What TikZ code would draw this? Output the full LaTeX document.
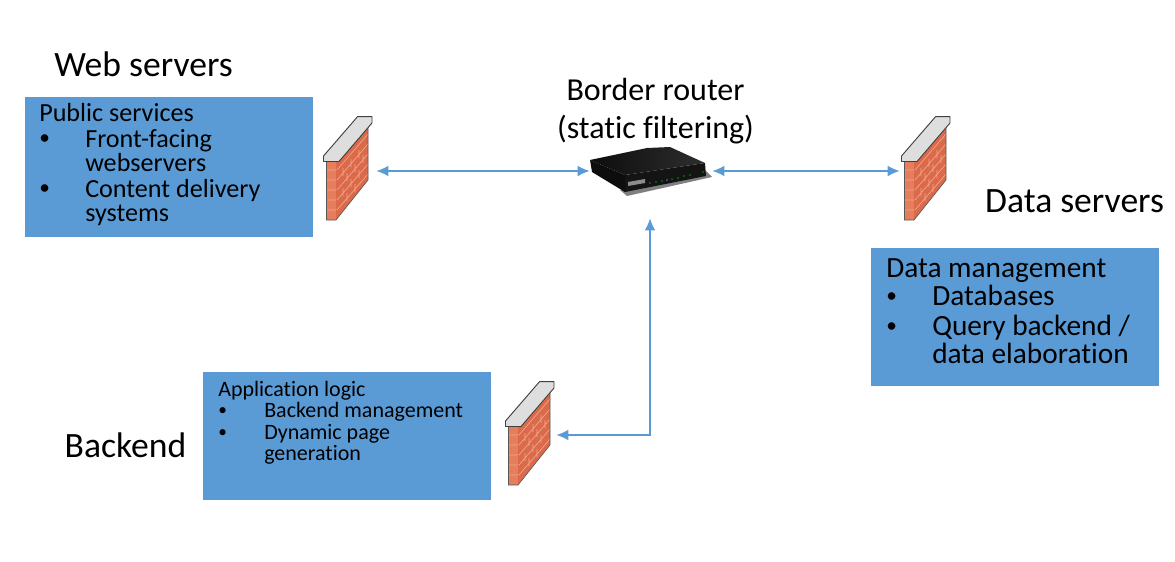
\documentclass[tikz,border=0pt]{standalone}
\usepackage{fontspec}
\usetikzlibrary{arrows.meta}
\setmainfont[Ligatures=NoCommon]{Carlito}
\definecolor{boxblue}{HTML}{5B9BD5}
\definecolor{brick}{HTML}{DB6A4A}
\definecolor{brickfront}{HTML}{E67D5C}
\definecolor{capgrey}{HTML}{DEDEDE}
\definecolor{mortar}{HTML}{EFA68D}
\definecolor{arrowblue}{HTML}{5B9BD5}
\newcommand{\bul}[2][16]{\makebox[#2][l]{\raisebox{0.1em}{\fontsize{#1}{#1}\selectfont •}}}
\tikzset{
  x=0.75pt,y=-0.75pt,
  bluebox/.style={fill=boxblue,draw=none,inner sep=0pt,anchor=north west},
  boxtext/.style={anchor=north west,inner sep=0pt,align=left,text=black},
  bignote/.style={inner sep=0pt,font=\fontsize{26.7}{30}\selectfont,align=center},
  anchorbox/.style={draw=none,fill=none,inner sep=0pt,minimum width=#1*0.75pt,minimum height=80*0.75pt},
  link/.style={draw=arrowblue,line width=1.2pt,{Latex[length=9pt,width=8pt]}-{Latex[length=9pt,width=8pt]}},
  pics/wall/.style={code={
    \fill[brick] (16.5,51)--(29,51)--(58,16)--(58,70)--(26,110)--(16.5,110)--cycle;
    \fill[brickfront] (16.5,51) rectangle (26,110);
    \draw[mortar,line width=0.5pt] (17,60)--(26,60) (17,70)--(26,70) (17,80)--(26,80) (17,90)--(26,90) (17,100)--(26,100)
      (27,60)--(58,24) (27,70)--(58,34) (27,80)--(58,44) (27,90)--(58,54) (27,100)--(58,64)
      (33,58)--(33,66) (41,49)--(41,57) (49,40)--(49,48) (37,63)--(37,71) (45,54)--(45,62) (53,45)--(53,53)
      (33,78)--(33,86) (41,69)--(41,77) (49,60)--(49,68) (37,83)--(37,91) (45,74)--(45,82);
    \draw[black!65,line width=0.5pt] (16.5,51)--(16.5,110)--(26,110)--(58,70)--(58,16);
    \draw[black!75,fill=capgrey,line width=0.7pt,line join=round] (13.5,46)--(47.5,6.7)--(62,6.7)--(62,13)--(29,51.5)--(13.5,51.5)--cycle;
  }}
}
\begin{document}
\begin{tikzpicture}
\useasboundingbox (0,0) rectangle (1175,561);
% boxes
\node[bluebox,minimum width=288*0.75pt,minimum height=140*0.75pt] (pub) at (25,97) {};
\node[bluebox,minimum width=288*0.75pt,minimum height=128*0.75pt] (app) at (203,372) {};
\node[bluebox,minimum width=288*0.75pt,minimum height=138*0.75pt] (dat) at (871,248) {};
% box text
\node[boxtext,font=\fontsize{19.6}{18}\selectfont] (pubt) at (39,103) {Public services\\[1.5pt]\bul{34.5pt}Front-facing\\\hspace{34.5pt}webservers\\[1.5pt]\bul{34.5pt}Content delivery\\\hspace{34.5pt}systems};
\node[boxtext,font=\fontsize{16.5}{16}\selectfont] (appt) at (218,381) {Application logic\\\bul[13]{34.5pt}Backend management\\\bul[13]{34.5pt}Dynamic page\\\hspace{34.5pt}generation};
\node[boxtext,font=\fontsize{22}{21}\selectfont] (datt) at (886,258) {Data management\\\bul{34.5pt}Databases\\[1.5pt]\bul{34.5pt}Query backend /\\\hspace{34.5pt}data elaboration};
% labels
\node[bignote] (webl) at (143.5,64) {Web servers};
\node[bignote] (datl) at (1074.5,201) {Data servers};
\node[bignote] (bckl) at (125.5,445) {Backend};
\node[inner sep=0pt,font=\fontsize{24}{28.5}\selectfont,align=center] (brl) at (655.5,111) {Border router\\(static filtering)};
% walls
\pic at (310,110) {wall};
\pic at (888,110) {wall};
\pic at (492,375) {wall};
\node[anchorbox=55] (wa) at (348.5,171) {};
\node[anchorbox=50] (wb) at (925,171) {};
\node[anchorbox=50] (wc) at (531,435) {};
% router
\node[draw=none,minimum width=122*0.75pt,minimum height=62*0.75pt,inner sep=0pt] (router) at (651,187) {};
\fill[black!50] (620,190)--(627,196)--(712,177)--(706,171)--cycle;
\fill[black!95] (590,160)--(592,172)--(625,192)--(625,175)--cycle;
\fill[black!92] (625,175)--(625,192)--(706,176)--(705,163)--cycle;
\shade[left color=black!95,right color=black!82] (590,160)--(647,148)--(670,147)--(705,163)--(625,175)--cycle;
\fill[black!45] (628,186)--(628,182)--(645,179)--(645,183)--cycle;
\foreach \xx/\yy in {650/183,656/182,662/181,672/179,678/178,684/176,690/175,703/172}{\fill[green!60!black] (\xx,\yy) circle[radius=0.9];}
\fill[blue!60!white] (667,180) circle[radius=0.9];
% connectors
\coordinate (corner) at (650,435);
\draw[link] (wa) -- (router.west |- wa);
\draw[link] (router.east |- wb) -- (wb);
\draw[link] (wc) -- (corner) -- (corner |- router.south);
\end{tikzpicture}
\end{document}
